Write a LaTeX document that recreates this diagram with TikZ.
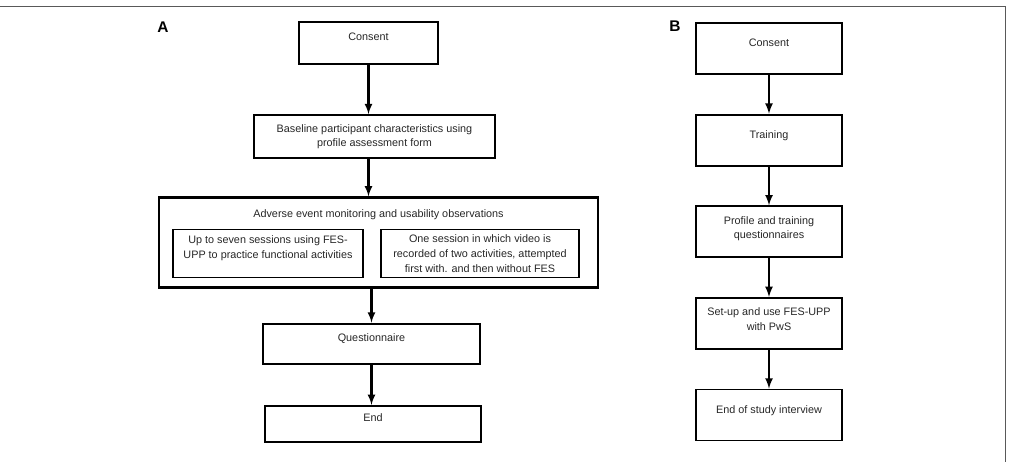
\documentclass[tikz,border=0pt]{standalone}
\usepackage{fontspec}
\setmainfont{Liberation Sans}
\usetikzlibrary{positioning}
\tikzset{anode/.style={draw,line width=1.6pt,align=center,inner sep=2pt,text=black!85,font=\fontsize{7.7}{10.5}\selectfont},
  bnode/.style={anode,line width=1.3pt,minimum width=3.65cm,minimum height=1.275cm},
  innode/.style={anode,line width=0.8pt},
  lineone/.style={text height=6pt,text depth=9.7pt},
  lineoneb/.style={text height=6pt,text depth=8.3pt},
  linetwo/.style={text depth=6pt},
  flowarrow/.style={-latex,line width=1.5pt},
  panel/.style={font=\bfseries\fontsize{11}{13}\selectfont}
}
\begin{document}
\begin{tikzpicture}
  \useasboundingbox (0,0) rectangle (25.225,-11.55);
  \draw[black!65,line width=0.7pt] (0,-0.15) -- (25.125,-0.15) -- (25.125,-11.55);

  % Panel A
    \node[panel] (pa) at (4.075,-0.675) {A};
    \node[anode, lineone, minimum width=3.475cm, minimum height=1.05cm] (a1) at (9.2125,-1.075) {Consent};
    \node[anode, minimum width=6.025cm, minimum height=1.075cm, below = 1.225 of a1, xshift=0.15cm] (a2) {Baseline participant characteristics using\\profile assessment form};
    \node[anode, minimum width=10.975cm, minimum height=2.25cm, below = 0.925 of a2, xshift=0.1cm] (a3) {};
    \node[font=\fontsize{7.7}{10.5}\selectfont, text=black!85] (a3t) at ([yshift=-0.45cm]a3.north) {Adverse event monitoring and usability observations};
    \node[innode, text depth=9.4pt, minimum width=4.75cm, minimum height=1.2cm] (a3l) at ([xshift=-2.7625cm,yshift=-0.275cm]a3.center) {Up to seven sessions using FES-\\UPP to practice functional activities};
    \node[innode, minimum width=4.95cm, minimum height=1.2cm] (a3r) at ([xshift=2.5375cm,yshift=-0.275cm]a3.center) {One session in which video is\\recorded of two activities, attempted\\first with. and then without FES};
    \node[anode, lineone, minimum width=5.425cm, minimum height=1.0cm, below = 0.85 of a3, xshift=-0.175cm] (a4) {Questionnaire};
    \node[anode, lineone, minimum width=5.4cm, minimum height=0.9cm, below = 1.0 of a4, xshift=0.0375cm] (a5) {End};

    % A arrows
    \draw[flowarrow] (a1.south) -- (a2.north -| a1.south);
    \draw[flowarrow] (a2.south -| a1.south) -- (a3.north -| a1.south);
    \draw[flowarrow] (a3.south -| a4.north) -- (a4.north);
    \draw[flowarrow] (a4.south) -- (a5.north -| a4.south);

  % Panel B
    \node[panel] (pb) at (16.875,-0.65) {B};
    \node[bnode, lineoneb] (b1) at (19.225,-1.2125) {Consent};
    \node[bnode, lineoneb, below = 0.97 of b1] (b2) {Training};
    \node[bnode, linetwo, below = 0.97 of b2] (b3) {Profile and training\\questionnaires};
    \node[bnode, linetwo, below = 0.97 of b3] (b4) {Set-up and use FES-UPP\\with PwS};
    \node[bnode, lineoneb, below = 0.97 of b4] (b5) {End of study interview};

    % B arrows
    \draw[flowarrow] (b1) -- (b2);
    \draw[flowarrow] (b2) -- (b3);
    \draw[flowarrow] (b3) -- (b4);
    \draw[flowarrow] (b4) -- (b5);

\end{tikzpicture}
\end{document}
